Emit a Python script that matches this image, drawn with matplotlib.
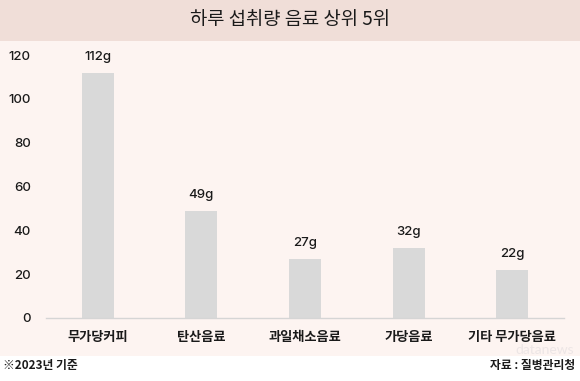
import matplotlib.pyplot as plt
from matplotlib.patches import Rectangle

plt.rcParams['font.family'] = ['Noto Sans CJK KR', 'DejaVu Sans']

# data
categories = ['무가당커피', '탄산음료', '과일채소음료', '가당음료', '기타 무가당음료']
values = [112, 49, 27, 32, 22]
value_labels = ['112g', '49g', '27g', '32g', '22g']
yticks = [0, 20, 40, 60, 80, 100, 120]

W, H = 580, 381
fig = plt.figure(figsize=(W / 100, H / 100), dpi=100)
fig.patch.set_facecolor('white')

# background bands
fig.patches.append(Rectangle((0, 1 - 41 / H), 1, 41 / H, transform=fig.transFigure,
                             facecolor='#F0DED8', edgecolor='none', zorder=0))
fig.patches.append(Rectangle((0, 1 - 356 / H), 1, (356 - 41) / H, transform=fig.transFigure,
                             facecolor='#FDF4F1', edgecolor='none', zorder=0))

fig.text(0.5, 1 - 20 / H, '하루 섭취량 음료 상위 5위', ha='center', va='center',
         fontsize=13.5, color='#1a1a1a')

# watermark (faint, behind the chart)
fig.text(1 - 6 / W, 1 - 350 / H, 'datanews', ha='right', va='center', fontsize=10,
         color='#EDE6E6', family=['Lato', 'DejaVu Sans'], zorder=1)

# axes: x 46..564 px, y 55..318 px
left, right, top, bottom = 46, 564, 55, 318
ax = fig.add_axes([left / W, 1 - bottom / H, (right - left) / W, (bottom - top) / H])
ax.set_facecolor('none')
ax.set_zorder(3)

num_font = ['Inter', 'DejaVu Sans']
x = list(range(len(categories)))
ax.bar(x, values, width=0.31, color='#D9D9D9', zorder=2)
for xi, v, lab in zip(x, values, value_labels):
    ax.annotate(lab, (xi, v), xytext=(0, 7), textcoords='offset points',
                ha='center', va='bottom', fontsize=9.5, color='#1a1a1a',
                family=num_font, fontweight='medium')

ax.set_xlim(-0.5, 4.5)
ax.set_ylim(0, 120)
ax.set_xticks(x)
ax.set_xticklabels(categories, fontsize=9.5, color='#1a1a1a', fontweight='bold')
ax.set_yticks(yticks)
ax.set_yticklabels([str(t) for t in yticks], fontsize=9.5, color='#1a1a1a',
                   family=num_font, fontweight='medium')
ax.tick_params(axis='both', length=0)
ax.tick_params(axis='x', pad=9)
ax.tick_params(axis='y', pad=11)
for s in ['top', 'right', 'left']:
    ax.spines[s].set_visible(False)
ax.spines['bottom'].set_color('#D5D5D5')
ax.spines['bottom'].set_linewidth(1)

# footer
fig.text(3 / W, 1 - 365 / H, '※2023년 기준', ha='left', va='center', fontsize=8.5,
         fontweight='bold', color='#1a1a1a')
fig.text(1 - 5 / W, 1 - 365 / H, '자료 : 질병관리청', ha='right', va='center', fontsize=8.5,
         fontweight='bold', color='#1a1a1a')

fig.savefig('out.png', dpi=100, facecolor=fig.get_facecolor())
